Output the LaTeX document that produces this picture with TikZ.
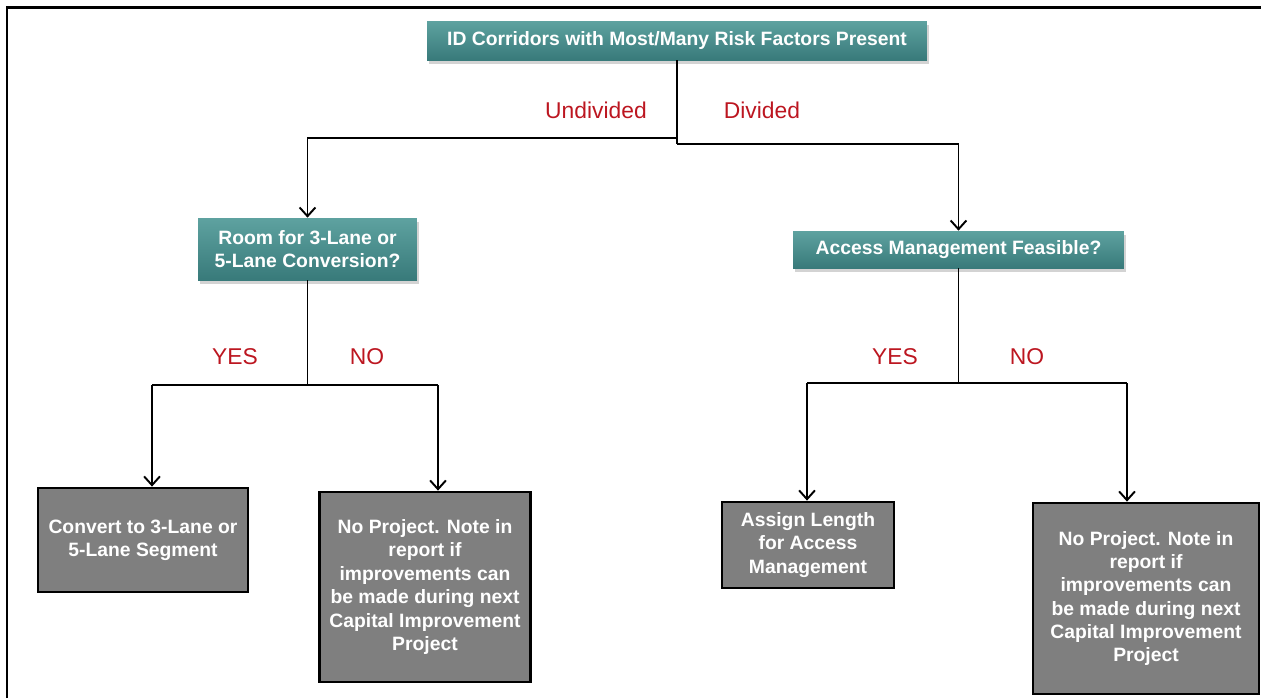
\documentclass[tikz,border=0pt]{standalone}
\usepackage{fontspec}
\setmainfont{Liberation Sans}
\usetikzlibrary{arrows.meta,shadows}
\definecolor{TealTop}{RGB}{94,162,160}
\definecolor{TealBot}{RGB}{56,122,122}
\definecolor{BoxGray}{RGB}{127,127,127}
\definecolor{LabelRed}{RGB}{188,22,32}

\begin{document}
\begin{tikzpicture}[x=0.02cm,y=-0.02cm,
  question/.style={top color=TealTop,bottom color=TealBot,text=white,
    font=\fontsize{11}{13.3}\selectfont\bfseries,align=center,inner sep=0pt,
    drop shadow={shadow xshift=1pt,shadow yshift=-2pt,opacity=.35}},
  action/.style={fill=BoxGray,draw=black,line width=1.6pt,text=white,
    font=\fontsize{11}{13.3}\selectfont\bfseries,align=center,inner sep=0pt},
  wire/.style={line width=1.1pt},
  link/.style={line width=1.1pt,-{Straight Barb[length=5pt,width=9pt]}},
  branch/.style={text=LabelRed,font=\fontsize{13}{15}\selectfont}]
\useasboundingbox (0,0) rectangle (1261,698);

% frame
\draw[line width=1.7pt] (7,698) -- (7,7) -- (1261,7);

% question boxes
\node[question,minimum width=10cm,minimum height=0.78cm] (top) at (677,40.5)
  {ID Corridors with Most/Many Risk Factors Present};
\node[question,minimum width=4.38cm,minimum height=1.24cm] (room) at (307.5,249)
  {Room for 3-Lane or\\5-Lane Conversion?};
\node[question,minimum width=6.62cm,minimum height=0.74cm] (access) at (958.5,249.5)
  {Access Management Feasible?};

% action boxes
\node[action,minimum width=4.2cm,minimum height=2.08cm] (conv) at (143,540)
  {Convert to 3-Lane or\\5-Lane Segment};
\node[action,minimum width=4.22cm,minimum height=3.8cm] (noL) at (425,587)
  {No Project. Note in\\report if\\improvements can\\be made during next\\Capital Improvement\\Project};
\node[action,minimum width=3.44cm,minimum height=1.72cm] (assign) at (808,545)
  {Assign Length\\for Access\\Management};
\node[action,minimum width=4.52cm,minimum height=3.82cm] (noR) at (1146,598.5)
  {No Project. Note in\\report if\\improvements can\\be made during next\\Capital Improvement\\Project};

% branch labels
\node[branch] (undiv) at (596,110) {Undivided};
\node[branch] (div) at (762,110) {Divided};
\node[branch] (yesL) at (235,357) {YES};
\node[branch] (noLl) at (367,357) {NO};
\node[branch] (yesR) at (895,357) {YES};
\node[branch] (noRl) at (1027,357) {NO};

% connectors
\coordinate (splitU) at (677,138);
\coordinate (splitD) at (677,144);
\draw[wire] (top.south) -- (splitD);
\draw[link] (splitU) -| (room.north);
\draw[link] (splitD) -| (access.north);

\coordinate (roomJ) at (307.5,385);
\coordinate (yesA) at (152,385);
\coordinate (noA) at (438,385);
\draw[wire] (room.south) -- (roomJ);
\draw[wire] (yesA) -- (noA);
\draw[link] (yesA) -- (yesA |- conv.north);
\draw[link] (noA) -- (noA |- noL.north);

\coordinate (accJ) at (958.5,383);
\coordinate (yesB) at (807,383);
\coordinate (noB) at (1127,383);
\draw[wire] (access.south) -- (accJ);
\draw[wire] (yesB) -- (noB);
\draw[link] (yesB) -- (yesB |- assign.north);
\draw[link] (noB) -- (noB |- noR.north);
\end{tikzpicture}
\end{document}
